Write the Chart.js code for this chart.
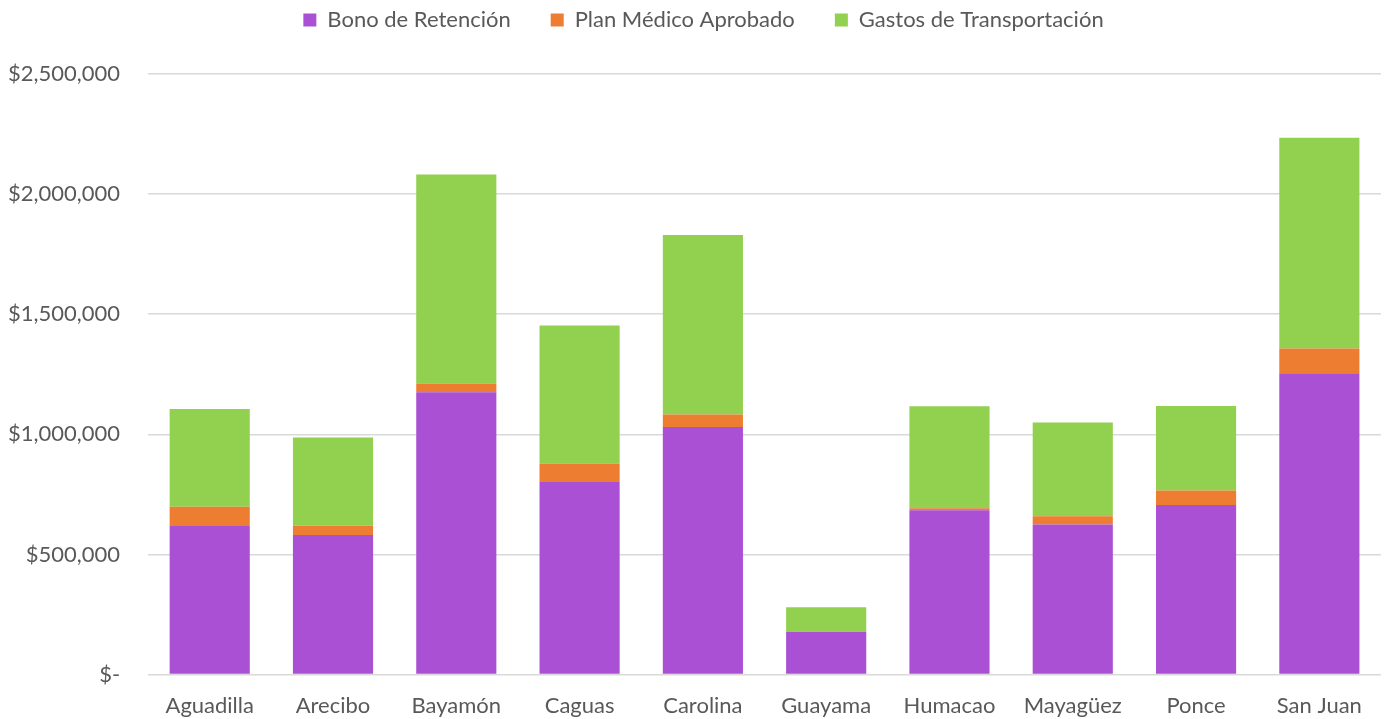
<!DOCTYPE html>
<html>
<head>
<meta charset="utf-8">
<script src="https://cdn.jsdelivr.net/npm/chart.js@4"></script>
<style>
  html, body { margin: 0; padding: 0; background: #fff; }
  #wrap { width: 1385px; height: 719px; }
</style>
</head>
<body>
<div id="wrap"><canvas id="chart"></canvas></div>
<script>
// ─── Data ───────────────────────────────────────────
const regions = ["Aguadilla", "Arecibo", "Bayamón", "Caguas", "Carolina", "Guayama", "Humacao", "Mayagüez", "Ponce", "San Juan"];
const bonoRetencion = [619000, 581000, 1175000, 802000, 1031000, 178000, 684000, 625000, 706000, 1254000];
const planMedico = [80000, 39000, 37000, 77000, 52000, 0, 8000, 34000, 60000, 103000];
const gastosTransporte = [407000, 367000, 870000, 574000, 747000, 102000, 425000, 390000, 352000, 878000];
const yTicks = [0, 500000, 1000000, 1500000, 2000000, 2500000];

const textColor = "#595959";
const fontFamily = "Lato, 'Open Sans', sans-serif";

const money = (v) => v === 0 ? "$-" : "$" + v.toLocaleString("en-US");

// legend box keeps fixed height so the plot starts where the original does,
// and is nudged right a bit like the original
const legendTweak = {
  id: "legendTweak",
  beforeInit(chart) {
    const fit = chart.legend.fit;
    chart.legend.fit = function () {
      fit.call(this);
      this.height = 105;
    };
  },
  afterLayout(chart) {
    chart.legend.left += 23;
    chart.legend.right += 23;
  }
};

new Chart(document.getElementById("chart").getContext("2d"), {
  type: "bar",
  data: {
    labels: regions,
    datasets: [
      { label: "Bono de Retención", data: bonoRetencion, backgroundColor: "#AA50D5" },
      { label: "Plan Médico Aprobado", data: planMedico, backgroundColor: "#ED7D31" },
      { label: "Gastos de Transportación", data: gastosTransporte, backgroundColor: "#92D050" }
    ]
  },
  options: {
    responsive: true, maintainAspectRatio: false, animation: false,
    layout: { padding: { left: -20, right: 4, top: -31, bottom: -10 } },
    datasets: { bar: { barPercentage: 0.65, categoryPercentage: 1 } },
    plugins: {
      tooltip: { enabled: false },
      legend: {
        position: "top",
        labels: {
          color: textColor, boxWidth: 13, boxHeight: 13, padding: 40,
          font: { family: fontFamily, size: 22 }
        }
      }
    },
    scales: {
      x: {
        stacked: true,
        grid: { display: false },
        border: { display: false },
        ticks: { color: textColor, font: { family: fontFamily, size: 22 }, padding: 10 }
      },
      y: {
        stacked: true,
        min: 0, max: 2500000,
        afterBuildTicks: (axis) => { axis.ticks = yTicks.map(v => ({ value: v })); },
        grid: { color: "#d9d9d9", lineWidth: 1.5, drawTicks: false },
        border: { display: false },
        ticks: { color: textColor, font: { family: fontFamily, size: 22 }, padding: 28, callback: money }
      }
    }
  },
  plugins: [legendTweak]
});
</script>
</body>
</html>
